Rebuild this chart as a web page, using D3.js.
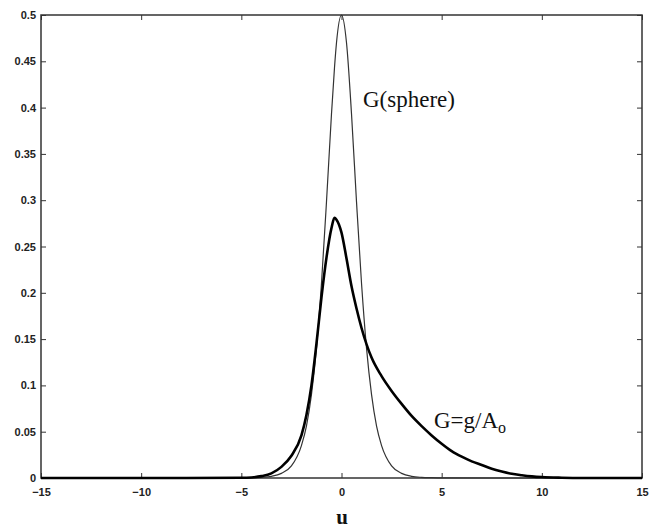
<!DOCTYPE html>
<html>
<head>
<meta charset="utf-8">
<script src="https://cdn.jsdelivr.net/npm/d3@7/dist/d3.min.js"></script>
<style>
  body { margin: 0; background: #fff; }
  .tick text { font-family: "Liberation Sans", Arial, sans-serif; font-size: 11px; font-weight: bold; fill: #222; }
  .tick line { stroke: #333; }
</style>
</head>
<body>
<script>
// values
let uValues = [-15, -10, -5, -4.5, -4, -3.5, -3, -2.5, -2, -1.75, -1.5, -1.25, -1, -0.75, -0.5, -0.35, -0.25, 0, 0.25, 0.5, 0.75, 1, 1.25, 1.5, 1.75, 2, 2.5, 3, 3.5, 4, 4.5, 5, 10, 15];
let sphereValues = [0, 0, 0.0001, 0.0003, 0.0007, 0.0018, 0.005, 0.013, 0.035, 0.056, 0.090, 0.140, 0.210, 0.298, 0.393, 0.443, 0.470, 0.5, 0.470, 0.393, 0.298, 0.210, 0.140, 0.090, 0.056, 0.035, 0.013, 0.005, 0.0018, 0.0007, 0.0003, 0.0001, 0, 0];

let gU = [-15, -10, -5, -4.5, -4, -3.5, -3, -2.5, -2, -1.75, -1.5, -1.25, -1, -0.75, -0.5, -0.35, -0.25, 0, 0.25, 0.5, 0.75, 1, 1.5, 2, 2.5, 3, 3.5, 4, 4.5, 5, 5.5, 6, 6.5, 7, 7.5, 8, 8.5, 9, 9.5, 10, 11, 12, 15];
let gValues = [0, 0, 0.0002, 0.0006, 0.002, 0.005, 0.012, 0.024, 0.046, 0.068, 0.100, 0.145, 0.195, 0.238, 0.270, 0.281, 0.279, 0.265, 0.237, 0.207, 0.183, 0.162, 0.130, 0.110, 0.094, 0.080, 0.067, 0.056, 0.046, 0.037, 0.029, 0.023, 0.018, 0.014, 0.010, 0.007, 0.0045, 0.003, 0.0018, 0.001, 0.0003, 0, 0];

let xTicks = [-15, -10, -5, 0, 5, 10, 15];
let yTicks = [0, 0.05, 0.1, 0.15, 0.2, 0.25, 0.3, 0.35, 0.4, 0.45, 0.5];

let svgWidth = 650, svgHeight = 528;
let plotLeft = 41, plotRight = 642, plotTop = 15, plotBottom = 478;

let svg = d3.select("body")
    .append("svg")
    .attr("width", svgWidth)
    .attr("height", svgHeight);

// scales
let xScale = d3.scaleLinear().domain([-15, 15]).range([plotLeft, plotRight]);
let yScale = d3.scaleLinear().domain([0, 0.5]).range([plotBottom, plotTop]);

// axes, ticks pointing inward
svg.append("g")
    .attr("transform", "translate(0," + plotBottom + ")")
    .call(d3.axisBottom(xScale).tickValues(xTicks).tickSizeInner(-5).tickSizeOuter(0).tickPadding(10))
    .call(g => g.select(".domain").remove());

svg.append("g")
    .attr("transform", "translate(" + plotLeft + ",0)")
    .call(d3.axisLeft(yScale).tickValues(yTicks).tickSizeInner(-5).tickSizeOuter(0).tickPadding(5).tickFormat(d => String(d)))
    .call(g => g.select(".domain").remove());

svg.append("g")
    .attr("transform", "translate(0," + plotTop + ")")
    .call(d3.axisTop(xScale).tickValues(xTicks).tickSizeInner(-5).tickSizeOuter(0).tickFormat(""))
    .call(g => g.select(".domain").remove());

svg.append("g")
    .attr("transform", "translate(" + plotRight + ",0)")
    .call(d3.axisRight(yScale).tickValues(yTicks).tickSizeInner(-5).tickSizeOuter(0).tickFormat(""))
    .call(g => g.select(".domain").remove());

// frame
svg.append("rect")
    .attr("x", plotLeft).attr("y", plotTop)
    .attr("width", plotRight - plotLeft).attr("height", plotBottom - plotTop)
    .attr("fill", "none")
    .attr("stroke", "#333")
    .attr("stroke-width", 1.5);

// curves
let sphereLine = d3.line()
    .x((d, i) => xScale(uValues[i]))
    .y(d => yScale(d))
    .curve(d3.curveMonotoneX);

let gLine = d3.line()
    .x((d, i) => xScale(gU[i]))
    .y(d => yScale(d))
    .curve(d3.curveMonotoneX);

svg.append("path")
    .datum(sphereValues)
    .attr("fill", "none")
    .attr("stroke", "#333")
    .attr("stroke-width", 1.2)
    .attr("d", sphereLine);

svg.append("path")
    .datum(gValues)
    .attr("fill", "none")
    .attr("stroke", "#000")
    .attr("stroke-width", 2.6)
    .attr("d", gLine);

// labels
svg.append("text")
    .attr("x", 363).attr("y", 107)
    .attr("font-family", "Liberation Serif, Times New Roman, serif")
    .attr("font-size", 23)
    .attr("fill", "#111")
    .text("G(sphere)");

let gLabel = svg.append("text")
    .attr("x", 434).attr("y", 428)
    .attr("font-family", "Liberation Serif, Times New Roman, serif")
    .attr("font-size", 23)
    .attr("fill", "#111");
gLabel.append("tspan").text("G=g/A");
gLabel.append("tspan").attr("dy", 5).attr("font-size", 16).text("o");

svg.append("text")
    .attr("x", 342).attr("y", 524)
    .attr("text-anchor", "middle")
    .attr("font-family", "Liberation Serif, Times New Roman, serif")
    .attr("font-weight", "bold")
    .attr("font-size", 21)
    .attr("fill", "#111")
    .text("u");
</script>
</body>
</html>
